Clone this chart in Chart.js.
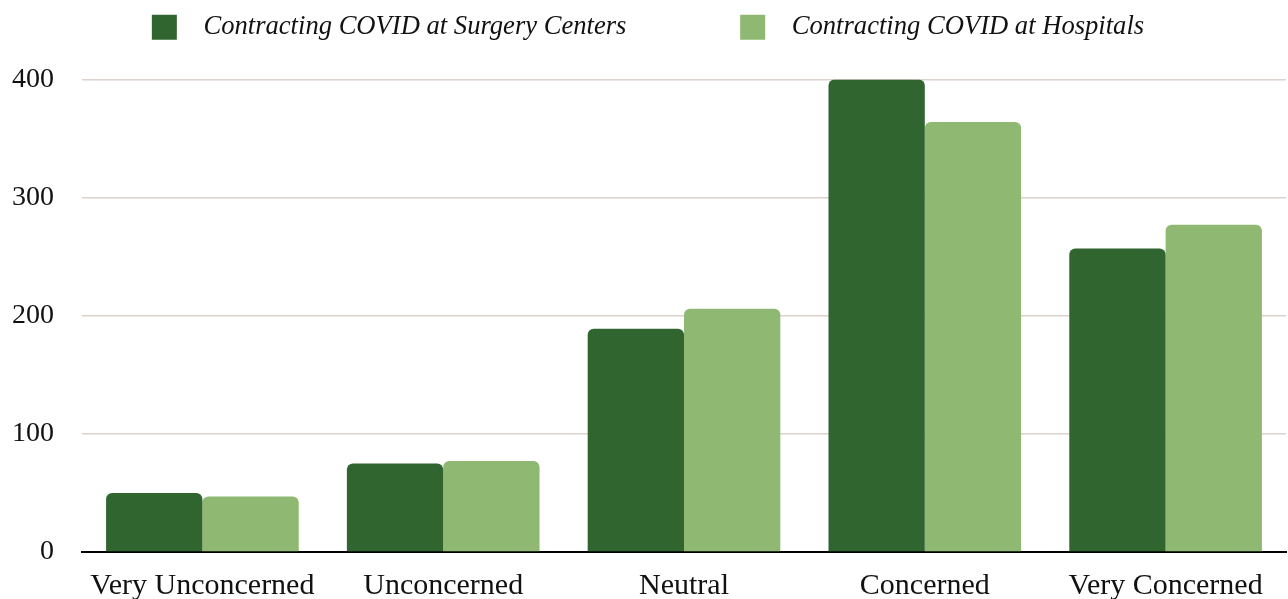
<!DOCTYPE html>
<html>
<head>
<meta charset="utf-8">
<script src="https://cdn.jsdelivr.net/npm/chart.js@4.4.1/dist/chart.umd.min.js"></script>
<style>
  html, body { margin: 0; padding: 0; background: #fff; }
  #wrap { width: 1288px; height: 599px; }
</style>
</head>
<body>
<div id="wrap"><canvas id="chart"></canvas></div>
<script>
const categories = ["Very Unconcerned", "Unconcerned", "Neutral", "Concerned", "Very Concerned"];
const surgeryCenters = [50, 75, 189, 400, 257];
const hospitals = [47, 77, 206, 364, 277];
const seriesNames = ["Contracting COVID at Surgery Centers", "Contracting COVID at Hospitals"];
const yTicks = [0, 100, 200, 300, 400];

const darkGreen = "#30652f";
const lightGreen = "#8fb872";
const serif = "'Liberation Serif', 'Times New Roman', serif";

// extra room under the legend, like the original
const legendGap = {
  id: "legendGap",
  beforeInit(chart) {
    const fit = chart.legend.fit;
    chart.legend.fit = function () {
      fit.call(this);
      this.height += 29;
    };
  },
};

const ctx = document.getElementById("chart");
const chart = new Chart(ctx, {
  type: "bar",
  data: {
    labels: categories,
    datasets: [
      {
        label: seriesNames[0],
        data: surgeryCenters,
        backgroundColor: darkGreen,
        borderRadius: { topLeft: 6, topRight: 6 },
        borderSkipped: "start",
      },
      {
        label: seriesNames[1],
        data: hospitals,
        backgroundColor: lightGreen,
        borderRadius: { topLeft: 6, topRight: 6 },
        borderSkipped: "start",
      },
    ],
  },
  plugins: [legendGap],
  options: {
    responsive: true,
    maintainAspectRatio: false,
    animation: false,
    categoryPercentage: 0.8,
    barPercentage: 1.0,
    layout: { padding: { left: 10, right: 2, top: 0, bottom: 0 } },
    plugins: {
      tooltip: { enabled: false },
      legend: {
        position: "top",
        labels: {
          boxWidth: 25,
          boxHeight: 25,
          padding: 14,
          color: "#111",
          font: { family: serif, size: 26.6, style: "italic" },
          generateLabels: (c) => {
            const items = Chart.defaults.plugins.legend.labels.generateLabels(c);
            return items.map((it, i) => {
              it.text = "  " + it.text + (i === 0 ? "               " : "");
              it.lineWidth = 0;
              return it;
            });
          },
        },
      },
    },
    scales: {
      x: {
        afterFit: (axis) => { axis.height = 47; },
        grid: { display: false },
        border: { display: true, color: "#000", width: 2 },
        ticks: {
          color: "#111",
          padding: 8,
          font: { family: serif, size: 30 },
          maxRotation: 0,
          autoSkip: false,
        },
      },
      y: {
        min: 0,
        max: 400,
        afterBuildTicks: (axis) => {
          axis.ticks = yTicks.map((v) => ({ value: v }));
        },
        afterFit: (axis) => { axis.width = 72; },
        grid: { color: "#dbd2ce", lineWidth: 1.5, drawTicks: false },
        border: { display: false },
        ticks: {
          color: "#111",
          padding: 28,
          font: { family: serif, size: 28 },
        },
      },
    },
  },
});
</script>
</body>
</html>
